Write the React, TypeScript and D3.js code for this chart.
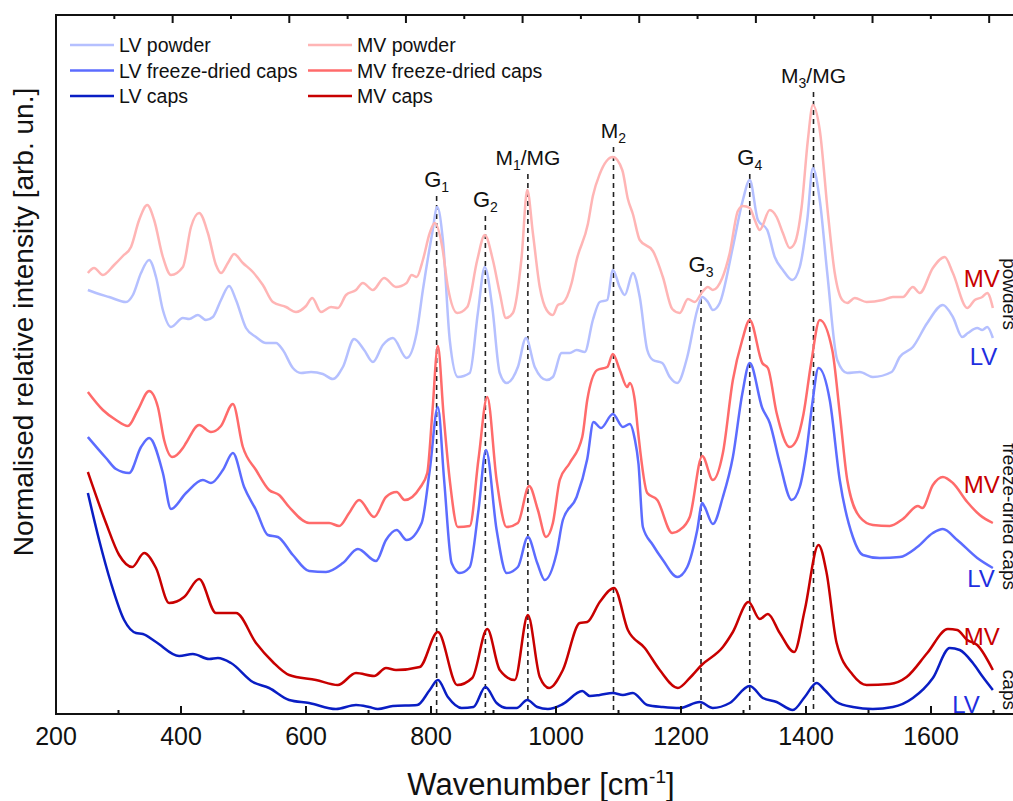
import React from 'react';
import * as d3 from 'd3';

type Pt = [number, number];

// wavenumber [cm-1], normalised intensity (arb. un., offset stacked)
const LV_POWDER: Pt[] = [[251,424],[264,421],[285,417],[312,412],[323,419],[336,441],[349,454],[360,437],[371,404],[384,387],[403,396],[413,395],[427,399],[440,394],[451,397],[464,414],[477,428],[488,414],[504,386],[520,377],[536,371],[552,371],[563,364],[579,346],[592,341],[608,342],[627,340],[643,335],[659,347],[677,375],[693,364],[707,352],[723,369],[739,376],[761,356],[777,381],[787,424],[802,481],[810,507],[819,474],[830,374],[843,337],[862,341],[875,401],[886,447],[898,407],[910,341],[921,331],[939,347],[952,376],[966,347],[985,334],[995,337],[1009,361],[1022,361],[1033,364],[1046,362],[1059,394],[1070,412],[1082,414],[1091,444],[1102,427],[1110,419],[1123,441],[1134,417],[1146,364],[1155,354],[1170,351],[1182,337],[1194,331],[1210,357],[1226,404],[1234,417],[1243,412],[1251,404],[1262,411],[1283,467],[1299,514],[1310,534],[1323,494],[1338,484],[1350,457],[1363,444],[1378,434],[1390,447],[1402,494],[1411,546],[1422,514],[1434,441],[1450,354],[1466,341],[1486,342],[1507,337],[1537,342],[1550,357],[1571,367],[1594,391],[1619,409],[1635,397],[1650,377],[1659,381],[1674,386],[1682,384],[1690,387],[1699,376]];

const MV_POWDER: Pt[] = [[251,441],[261,446],[275,439],[293,449],[307,458],[320,467],[333,494],[346,509],[357,494],[371,457],[384,439],[403,447],[416,487],[429,501],[443,481],[456,449],[464,441],[475,451],[485,460],[499,451],[515,442],[531,429],[547,412],[568,407],[584,402],[600,408],[610,416],[624,402],[640,407],[651,406],[664,419],[680,424],[691,431],[707,424],[725,436],[744,427],[761,431],[769,439],[777,437],[787,454],[798,481],[806,491],[818,467],[827,427],[842,401],[858,407],[874,454],[886,479],[899,454],[910,421],[920,396],[931,401],[945,457],[954,524],[963,481],[974,427],[985,404],[995,399],[1003,409],[1011,411],[1025,431],[1033,454],[1051,490],[1059,518],[1070,540],[1091,557],[1106,544],[1115,515],[1123,500],[1134,474],[1155,463],[1171,437],[1186,405],[1198,401],[1211,415],[1222,412],[1234,422],[1243,427],[1251,424],[1266,436],[1278,461],[1291,503],[1299,508],[1310,506],[1318,494],[1326,484],[1342,504],[1353,497],[1363,481],[1374,466],[1382,471],[1393,507],[1403,574],[1411,609],[1422,584],[1435,501],[1446,441],[1458,414],[1466,411],[1478,416],[1497,412],[1523,414],[1539,417],[1555,417],[1571,427],[1582,421],[1603,446],[1622,457],[1635,441],[1658,406],[1670,414],[1682,417],[1690,421],[1699,406]];

const LV_FREEZE: Pt[] = [[251,277],[280,256],[296,245],[317,241],[336,267],[349,276],[371,241],[384,205],[408,221],[435,234],[448,231],[467,244],[483,261],[501,227],[520,204],[539,179],[555,177],[579,159],[605,143],[632,142],[659,151],[683,165],[712,153],[728,174],[745,184],[761,174],[785,191],[798,244],[811,307],[821,234],[833,151],[846,141],[862,147],[876,204],[888,264],[905,184],[921,141],[939,147],[955,177],[970,151],[982,134],[1001,161],[1011,194],[1033,217],[1050,255],[1060,292],[1072,286],[1091,300],[1107,287],[1118,290],[1126,275],[1132,250],[1139,187],[1155,169],[1171,154],[1194,137],[1210,147],[1226,184],[1234,211],[1238,207],[1251,190],[1267,217],[1283,257],[1298,320],[1310,351],[1330,306],[1342,291],[1358,251],[1377,214],[1390,227],[1401,264],[1410,310],[1420,346],[1438,314],[1454,234],[1475,177],[1491,159],[1518,156],[1550,157],[1578,167],[1603,181],[1619,185],[1642,174],[1674,156],[1699,146]];

const MV_FREEZE: Pt[] = [[251,322],[275,304],[296,294],[315,288],[331,304],[349,323],[363,307],[373,274],[386,257],[403,266],[408,271],[429,289],[448,282],[464,288],[483,310],[499,267],[520,244],[541,224],[557,219],[573,207],[605,191],[637,191],[653,188],[669,201],[685,214],[709,197],[728,217],[745,222],[758,214],[782,226],[794,241],[802,300],[811,368],[820,300],[830,234],[843,187],[862,188],[876,255],[890,317],[905,234],[921,187],[939,191],[957,228],[971,204],[984,177],[995,191],[1006,234],[1022,251],[1042,277],[1050,314],[1066,344],[1082,347],[1091,360],[1102,344],[1114,327],[1118,331],[1126,314],[1131,284],[1146,221],[1162,214],[1186,181],[1198,184],[1214,197],[1234,258],[1251,234],[1267,261],[1283,334],[1298,374],[1310,394],[1330,351],[1339,346],[1353,301],[1374,267],[1385,274],[1396,300],[1408,350],[1422,394],[1442,364],[1454,301],[1466,234],[1486,197],[1507,189],[1534,188],[1555,195],[1579,208],[1586,206],[1603,229],[1619,237],[1635,231],[1658,212],[1678,199],[1699,191]];

const LV_CAPS: Pt[] = [[251,221],[269,174],[288,131],[309,94],[328,81],[339,80],[360,72],[397,58],[419,60],[445,55],[459,56],[480,51],[515,32],[541,26],[573,14],[605,11],[648,5],[680,9],[701,7],[715,5],[739,8],[778,9],[798,24],[811,34],[827,17],[849,6],[868,7],[887,27],[905,11],[921,6],[937,6],[954,14],[970,7],[987,5],[1011,10],[1042,23],[1054,18],[1070,19],[1091,21],[1107,19],[1123,21],[1146,9],[1171,7],[1198,6],[1230,12],[1251,6],[1278,11],[1310,28],[1331,16],[1353,12],[1379,4],[1398,17],[1417,31],[1430,24],[1449,12],[1475,7],[1507,5],[1539,7],[1571,16],[1603,36],[1630,66],[1646,64],[1667,51],[1683,37],[1699,24]];

const MV_CAPS: Pt[] = [[251,242],[280,191],[301,159],[322,147],[341,161],[360,146],[381,111],[405,117],[429,135],[456,101],[488,101],[520,71],[547,52],[573,39],[616,34],[651,29],[680,41],[709,38],[728,46],[744,44],[782,47],[811,82],[842,29],[866,36],[890,85],[910,44],[934,34],[955,99],[974,37],[989,26],[1011,44],[1038,91],[1050,92],[1070,112],[1093,126],[1115,84],[1142,66],[1166,44],[1195,26],[1214,36],[1233,49],[1267,67],[1283,82],[1308,112],[1326,95],[1339,100],[1358,81],[1381,62],[1398,104],[1420,169],[1433,141],[1449,71],[1475,39],[1497,29],[1534,30],[1561,37],[1594,61],[1627,85],[1642,84],[1658,74],[1674,69],[1699,44]];

const SERIES_NAMES = ['LV powder', 'LV freeze-dried caps', 'LV caps', 'MV powder', 'MV freeze-dried caps', 'MV caps'];
const SERIES_COLORS = ['#b5c0ff', '#5c6cff', '#0a1ec4', '#ffb5b5', '#ff6b6b', '#c80000'];
const SERIES_DATA = [LV_POWDER, LV_FREEZE, LV_CAPS, MV_POWDER, MV_FREEZE, MV_CAPS];

// peak annotations: wavenumber, label level (arb. un.)
const PEAK_MAIN = ['G', 'G', 'M', 'M', 'G', 'G', 'M'];
const PEAK_SUB = ['1', '2', '1', '2', '3', '4', '3'];
const PEAK_REST = ['', '', '/MG', '', '', '', '/MG'];
const PEAK_WN = [809, 887, 955, 1092, 1232, 1310, 1412];
const PEAK_LEVEL = [527, 507, 549, 576, 442, 549, 631];

// right-hand sample labels
const SIDE_TEXT = ['MV', 'LV', 'MV', 'LV', 'MV', 'LV'];
const SIDE_WN = [1710, 1706, 1710, 1702, 1710, 1678];
const SIDE_LEVEL = [427, 349, 221, 127, 69, 1];
const GROUP_TEXT = ['powders', 'freeze-dried caps', 'caps'];
const GROUP_LEVEL = [384, 124, 4];

const X_MAJOR = [200, 400, 600, 800, 1000, 1200, 1400, 1600];
const X_MINOR = [300, 500, 700, 900, 1100, 1300, 1500, 1700];
const TOP_MAJOR = [400, 600, 800, 1000, 1200, 1400, 1600, 1800];
const TOP_MINOR = [300, 500, 700, 900, 1100, 1300, 1500, 1700];

const FONT = "Arial, 'Liberation Sans', Helvetica, sans-serif";

export default function App() {
  const W = 1013, H = 801;
  const L = 56, R = 1024.75, T = 15, B = 714;
  const x = d3.scaleLinear().domain([200, 1750]).range([L, R]);
  const xTop = d3.scaleLinear().domain([200, 1861]).range([L, R]);
  const y = d3.scaleLinear().domain([0, 699]).range([B, T]);
  const line = d3.line<Pt>().x(d => x(d[0])).y(d => y(d[1])).curve(d3.curveMonotoneX);

  const legendCols = [0, 0, 0, 1, 1, 1];
  const legendRows = [0, 1, 2, 0, 1, 2];

  return (
    <svg width={W} height={H} style={{ position: 'absolute', left: 0, top: 0, background: '#fff' }} fontFamily={FONT}>
      <rect x={0} y={0} width={W} height={H} fill="#fff" />
      {/* dashed peak markers */}
      {PEAK_WN.map((w, i) => (
        <line key={'d' + i} x1={x(w)} x2={x(w)} y1={y(PEAK_LEVEL[i]) + 9} y2={B}
          stroke="#222" strokeWidth={1.6} strokeDasharray="5,4" />
      ))}
      {/* spectra */}
      {SERIES_DATA.map((d, i) => (
        <path key={'s' + i} d={line(d) || ''} fill="none" stroke={SERIES_COLORS[i]} strokeWidth={2.5} strokeLinejoin="round" />
      ))}
      {/* peak labels */}
      {PEAK_WN.map((w, i) => (
        <text key={'p' + i} x={x(w)} y={y(PEAK_LEVEL[i])} textAnchor="middle" fontSize={PEAK_MAIN[i] === 'G' ? 22 : 21} fill="#111">
          {PEAK_MAIN[i]}
          <tspan fontSize={14} dy={5}>{PEAK_SUB[i]}</tspan>
          {PEAK_REST[i] ? <tspan dy={-5}>{PEAK_REST[i]}</tspan> : null}
        </text>
      ))}
      {/* frame */}
      <g stroke="#111" strokeWidth={2} fill="none">
        <line x1={L} x2={L} y1={T} y2={B + 1} />
        <line x1={L - 1} x2={R} y1={B} y2={B} />
        <line x1={L - 1} x2={R} y1={T} y2={T} />
        <line x1={R} x2={R} y1={T} y2={B} />
        {X_MAJOR.map(v => <line key={'xm' + v} x1={x(v)} x2={x(v)} y1={B} y2={B - 8} />)}
        {X_MINOR.map(v => <line key={'xn' + v} x1={x(v)} x2={x(v)} y1={B} y2={B - 4} />)}
        {TOP_MAJOR.map(v => <line key={'tm' + v} x1={xTop(v)} x2={xTop(v)} y1={T} y2={T + 8} />)}
        {TOP_MINOR.map(v => <line key={'tn' + v} x1={xTop(v)} x2={xTop(v)} y1={T} y2={T + 4} />)}
      </g>
      {X_MAJOR.map(v => (
        <text key={'xl' + v} x={x(v)} y={745} textAnchor="middle" fontSize={25} fill="#111">{v}</text>
      ))}
      <text x={541} y={795} textAnchor="middle" fontSize={31} fill="#111">
        Wavenumber [cm<tspan fontSize={19} dy={-12}>-1</tspan><tspan dy={12}>]</tspan>
      </text>
      <text transform={`translate(33,322) rotate(-90)`} textAnchor="middle" fontSize={28} fill="#111">
        Normalised relative intensity [arb. un.]
      </text>
      {/* legend */}
      {SERIES_NAMES.map((n, i) => {
        const lx = legendCols[i] === 0 ? 70 : 308;
        const ly = 45 + legendRows[i] * 25.5;
        return (
          <g key={'lg' + i}>
            <line x1={lx} x2={lx + 44} y1={ly} y2={ly} stroke={SERIES_COLORS[i]} strokeWidth={2.5} />
            <text x={lx + 49} y={ly + 7} fontSize={19.5} fill="#111">{n}</text>
          </g>
        );
      })}
      {/* side labels */}
      {SIDE_TEXT.map((t, i) => (
        <text key={'sl' + i} x={x(SIDE_WN[i])} y={y(SIDE_LEVEL[i])} textAnchor="end" fontSize={24}
          fill={t === 'MV' ? '#c80000' : '#1e2ee0'}>{t}</text>
      ))}
      {GROUP_TEXT.map((t, i) => (
        <text key={'gl' + i} transform={`translate(${x(1715)},${y(GROUP_LEVEL[i])}) rotate(90)`} textAnchor="end"
          fontSize={19} fill="#111">{t}</text>
      ))}
    </svg>
  );
}
